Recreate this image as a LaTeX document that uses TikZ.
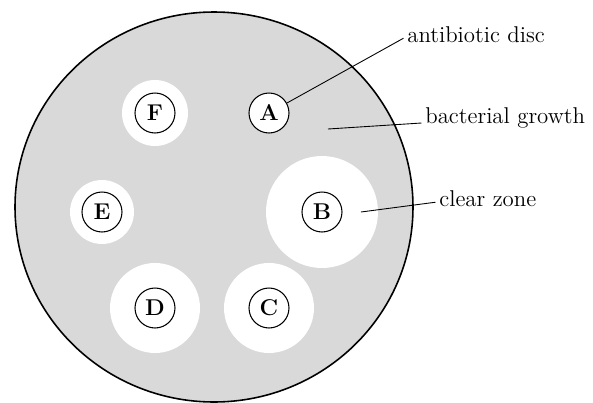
\documentclass[tikz,border=0pt]{standalone}
\usepackage{tikz}
\usetikzlibrary{calc}
\definecolor{plate}{HTML}{D9D9D9}

\begin{document}
\begin{tikzpicture}[x=0.02cm, y=-0.02cm,
    disc/.style={circle, draw, fill=white, line width=0.6pt, minimum size=0.8cm,
      inner sep=0pt, font=\fontsize{13}{13}\selectfont\bfseries},
    tag/.style={inner sep=2pt, anchor=base west, font=\fontsize{13}{15}\selectfont},
    leader/.style={line width=0.5pt}]
  % Coordinates
  \coordinate (O) at (214, 207);
  \coordinate (pA) at (269, 113);
  \coordinate (pB) at (322, 212);
  \coordinate (pC) at (269, 308);
  \coordinate (pD) at (155, 308);
  \coordinate (pE) at (102, 212);
  \coordinate (pF) at (155, 113);
  \coordinate (G_1) at (328, 129);
  \coordinate (Z_1) at (361, 212);

  \useasboundingbox (0,0) rectangle (593,403);

  % Drawing
  \filldraw[fill=plate, line width=0.9pt] (O) ellipse (199 and 195);
  \fill[white] (pB) circle (56);
  \fill[white] (pC) circle (45);
  \fill[white] (pD) circle (45);
  \fill[white] (pE) circle (32);
  \fill[white] (pF) circle (33);

  \node[disc] (A) at (pA) {A};
  \node[disc] (B) at (pB) {B};
  \node[disc] (C) at (pC) {C};
  \node[disc] (D) at (pD) {D};
  \node[disc] (E) at (pE) {E};
  \node[disc] (F) at (pF) {F};

  \node[tag] (tDisc) at (403.5, 42) {antibiotic disc};
  \node[tag] (tGrowth) at (421.5, 123) {bacterial growth};
  \node[tag] (tZone) at (435.5, 206) {clear zone};

  \draw[leader] (A) -- (tDisc.mid west);
  \draw[leader] (G_1) -- (tGrowth.base west);
  \draw[leader] (Z_1) -- (tZone.mid west);
\end{tikzpicture}
\end{document}
